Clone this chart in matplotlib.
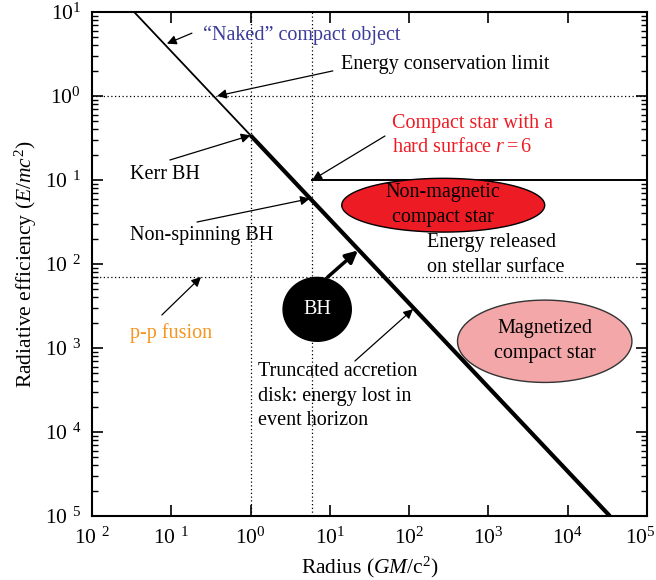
import numpy as np
import matplotlib
matplotlib.use("Agg")
from matplotlib import pyplot as plt
from matplotlib.ticker import FixedLocator, LogLocator, NullFormatter
from matplotlib.transforms import ScaledTranslation

plt.rcParams["font.family"] = ["Liberation Serif", "DejaVu Serif"]
plt.rcParams["mathtext.fontset"] = "custom"
plt.rcParams["mathtext.rm"] = "Liberation Serif"
plt.rcParams["mathtext.it"] = "Liberation Serif:italic"

# efficiency limit lines (radius, efficiency)
thin_r = [0.034, 1.0]
thin_eta = [10.0, 0.34]
thick_r = [1.0, 3.4e4]
thick_eta = [0.34, 1e-5]

# reference levels
kerr_r = 1.0
schw_r = 6.0
eta_unity = 1.0
eta_pp = 0.007
hard_surface_eta = 0.1

# blobs: centre (log r, log eta), half-axes in decades
nonmag_blob = (2.43, -1.30, 1.28, 0.32)
mag_blob = (3.71, -2.92, 1.10, 0.49)
bh_blob = (0.84, -2.54, 0.43, 0.38)

# labels: text, anchor (r, eta), arrow tail, arrow head, colour
labels = [
    ("\u201cNaked\u201d compact object", (0.25, 5.3), (0.182, 5.6), (0.088, 4.2), "#3b3b9b"),
    ("Energy conservation limit", (13.8, 2.4), (10.9, 1.99), (0.377, 1.0), "black"),
    ("Kerr BH", (0.03, 0.115), (0.096, 0.173), (1.0, 0.34), "black"),
    ("Non-spinning BH", (0.03, 0.0216), (0.211, 0.0316), (5.6, 0.06), "black"),
    ("Compact star with a\nhard surface $r = 6$", (60, 0.34), (49.5, 0.334), (6.0, 0.1), "#ed1c24"),
    ("p-p fusion", (0.03, 0.0015), (0.076, 0.00247), (0.237, 0.007), "#f7941d"),
    ("Truncated accretion\ndisk: energy lost in\nevent horizon", (1.24, 2.68e-4),
     (20.7, 7.0e-4), (112, 0.0029), "black"),
]
bh_arrow = ((9.4, 0.007), (22.6, 0.0145))
surface_note = ("Energy released\non stellar surface", (167, 0.0128))

x_decades = [-2, -1, 0, 1, 2, 3, 4, 5]
y_decades = [-5, -4, -3, -2, -1, 0, 1]


def dec_label(n):
    if n < 0:
        return r"$10^{\ \,%d}$" % (-n)
    return r"$10^{%d}$" % n


def blob(ax, spec, face, edge, z=3):
    cx, cy, a, b = spec
    t = np.linspace(0, 2 * np.pi, 200)
    ax.fill(10 ** (cx + a * np.cos(t)), 10 ** (cy + b * np.sin(t)),
            facecolor=face, edgecolor=edge, linewidth=1.0, zorder=z)


fig = plt.figure(figsize=(6.56, 5.8), dpi=100)
ax = fig.add_axes([92 / 656, 1 - 516 / 580, 555 / 656, 504 / 580])
ax.set_xscale("log")
ax.set_yscale("log")
ax.set_xlim(1e-2, 1e5)
ax.set_ylim(1e-5, 1e1)

# dotted guides
dot = dict(color="black", linestyle=(0, (1, 2)), linewidth=0.9, zorder=1)
ax.axvline(kerr_r, **dot)
ax.axvline(schw_r, **dot)
ax.axhline(eta_unity, **dot)
ax.axhline(eta_pp, **dot)

# solid hard surface level
ax.plot([schw_r, 1e5], [hard_surface_eta, hard_surface_eta], color="black", lw=1.4, zorder=2)

# limit lines
ax.plot(thin_r, thin_eta, color="black", lw=1.3, zorder=4)
ax.plot(thick_r, thick_eta, color="black", lw=3.0, zorder=4, solid_capstyle="butt")

# blobs
blob(ax, nonmag_blob, "#ed1c24", "black")
blob(ax, mag_blob, "#f4a7a8", "#333333")
blob(ax, bh_blob, "black", "black")

fs = 14.5
ls = 1.4
arr = dict(arrowstyle="-|>", color="black", lw=0.9, mutation_scale=14, shrinkA=0, shrinkB=0)

for text, pos, tail, head, col in labels:
    ax.text(pos[0], pos[1], text, color=col, fontsize=fs, ha="left", va="center",
            linespacing=ls, zorder=6)
    ax.annotate("", xy=head, xytext=tail, arrowprops=arr, zorder=5)

ax.annotate("", xy=bh_arrow[1], xytext=bh_arrow[0],
            arrowprops=dict(arrowstyle="-|>", color="black", lw=2.5, mutation_scale=18,
                            shrinkA=0, shrinkB=0), zorder=5)

ax.text(10 ** nonmag_blob[0], 10 ** nonmag_blob[1], "Non-magnetic\ncompact star",
        fontsize=fs, ha="center", va="center", linespacing=ls, zorder=6)
ax.text(10 ** mag_blob[0], 10 ** mag_blob[1], "Magnetized\ncompact star",
        fontsize=fs, ha="center", va="center", linespacing=ls, zorder=6)
ax.text(10 ** bh_blob[0], 10 ** bh_blob[1], "BH", color="white",
        fontsize=fs, ha="center", va="center", zorder=6)
ax.text(surface_note[1][0], surface_note[1][1], surface_note[0], fontsize=fs,
        ha="left", va="center", linespacing=ls, zorder=6)

# axes, ticks
ax.xaxis.set_major_locator(FixedLocator([10.0 ** n for n in x_decades]))
ax.xaxis.set_minor_locator(FixedLocator([]))
ax.set_xticklabels([dec_label(n) for n in x_decades])
ax.yaxis.set_major_locator(FixedLocator([10.0 ** n for n in y_decades]))
ax.yaxis.set_minor_locator(LogLocator(base=10, subs=np.arange(2, 10)))
ax.yaxis.set_minor_formatter(NullFormatter())
ax.set_yticklabels([dec_label(n) for n in y_decades])
ax.tick_params(which="both", direction="in", top=True, right=True, labelsize=fs + 1)
ax.tick_params(which="major", length=8, width=1.2, pad=8)
ax.tick_params(which="minor", length=4, width=1.0)
for s in ax.spines.values():
    s.set_linewidth(1.5)

# keep the last x label inside the figure, as in the original
last = ax.get_xticklabels()[-1]
last.set_transform(last.get_transform() + ScaledTranslation(-0.07, 0, fig.dpi_scale_trans))

ax.set_xlabel("Radius ($GM$/c$^2$)", fontsize=fs + 1, labelpad=5)
ax.set_ylabel("Radiative efficiency ($E$/$mc^2$)", fontsize=fs + 1, labelpad=4)

fig.savefig("out.png", dpi=100)
